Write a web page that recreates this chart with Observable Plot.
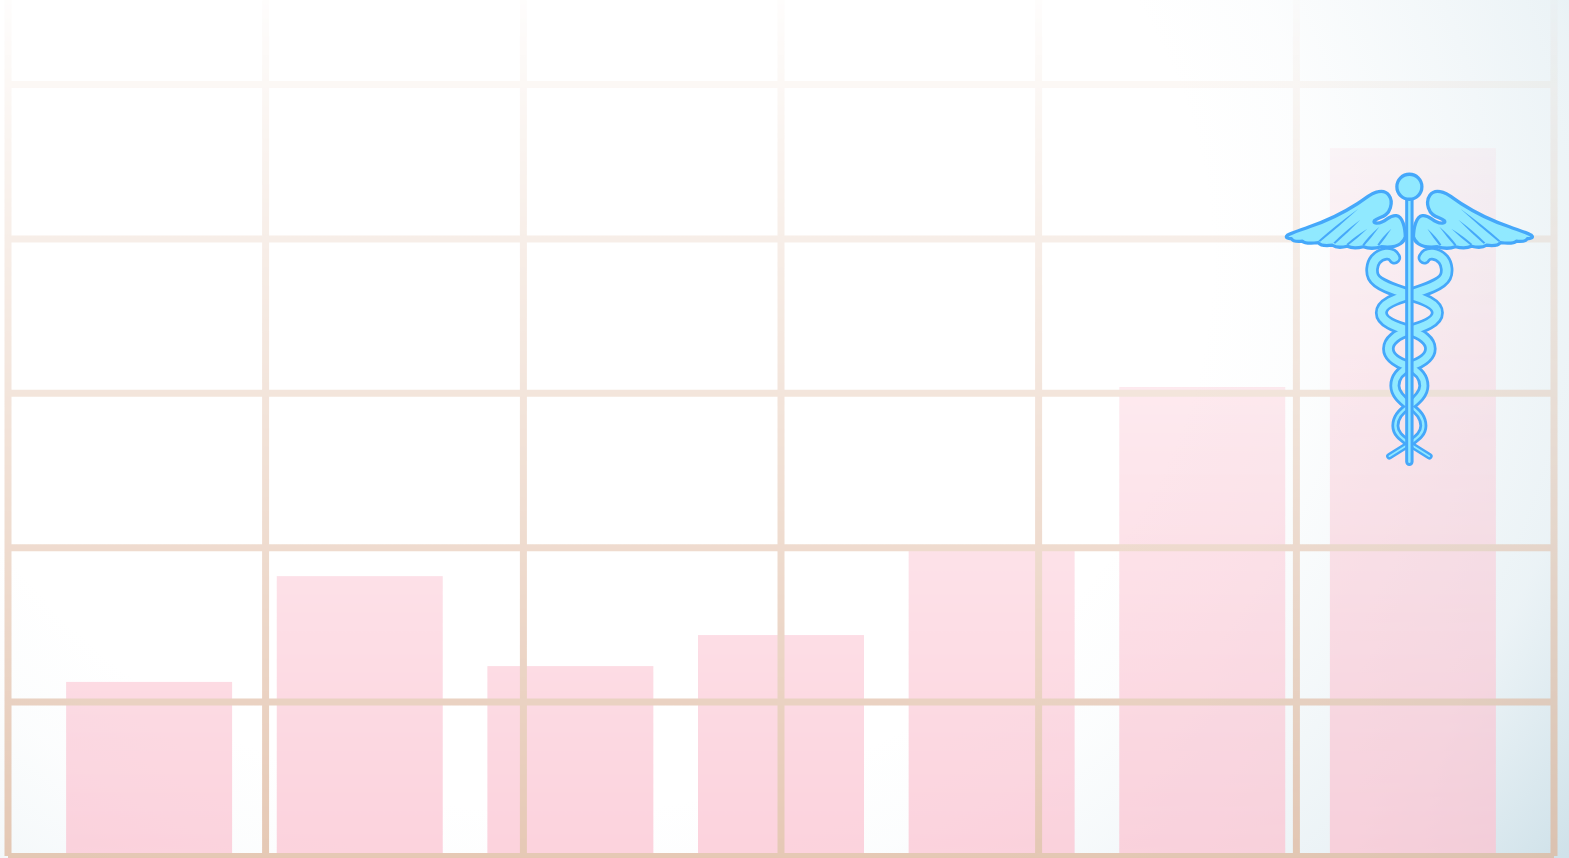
<!DOCTYPE html>
<html>
<head>
<meta charset="utf-8">
<script src="https://cdn.jsdelivr.net/npm/d3@7"></script>
<script src="https://cdn.jsdelivr.net/npm/@observablehq/plot@0.6"></script>
<style>
html,body{margin:0;padding:0;width:1569px;height:858px;overflow:hidden;background:#fff;}
svg{display:block;}
</style>
</head>
<body>
<div id="chart"></div>
<script>
const barIndex = [0, 1, 2, 3, 4, 5, 6];
const barValues = [22.55, 36.25, 24.6, 28.62, 39.64, 60.75, 91.7];
const yGrid = [0, 20, 40, 60, 80, 100];
const xGrid = [-0.67, 0.553, 1.777, 3, 4.223, 5.447, 6.67];
const iconAt = [{x: 6, y: 69.4}];

const fill = "#90e9ff", line = "#45a8fa";
const strands = [
  ["M15,257 C18,251 28,252 34,259 C38,264 38,272 36,276 C32,284 16,289 0,294", 13.5, 8],
  ["M0,294 C-14,298 -28,303 -28,312 C-28,321 -14,326 0,330", 13, 7.6],
  ["M0,330 C12,333 21,340 21,348 C21,356 12,362 0,366", 12.5, 7],
  ["M0,366 C-9,370 -14.5,377 -14.5,385 C-14.5,393 -8,399 0,405", 11, 5.4],
  ["M0,405 C8,410 14,417 14,425 C14,433 8,437 0,443", 8, 2.4],
  ["M0,443 L-20,455.5", 6.5, 1.6]
];
const strandSvg = (k) => strands.map(s => `<path d="${s[0]}" stroke="${k ? fill : line}" stroke-width="${k ? s[2] : s[1]}"/>`).join("");
const feather = (x1, y1, x2, y2) => `M${x1},${y1} Q${(x1+x2)/2+2},${(y1+y2)/2} ${x2},${y2} Q${(x1+x2)/2-1},${(y1+y2)/2+1.5} ${x1-1.8},${y1+1} Z`;
const half = `
<path d="M4,238 C4,226 7,216 13,215 C19,214 22,219 27,221 C31,223 37,223 35,220 C31,216 22,217 19,207 C16,197 22,189 31,191 C38,192 44,198 52,203 C66,212 82,220 100,226 C108,229 118,232 122,234.5 C125,237 121,238 118,238 Q116,241.5 107,240.5 Q104,243.5 91,242 Q88,246 77,244.5 Q72,248 62,245.5 Q56,248.5 46,246 Q38,249 28,246 Q15,247.5 9,243 Q5,240 4,236 Z" fill="${fill}" stroke="${line}" stroke-width="3.3" stroke-linejoin="round"/>
<g fill="${line}" stroke="none">
<path d="${feather(91,240,51,208)}"/><path d="${feather(76,242,49,219)}"/><path d="${feather(63,243.5,42,228)}"/><path d="${feather(47,244,30,226)}"/><path d="${feather(32,244,18,228)}"/>
</g>`;
const strandAll = (k) => `<g>${strandSvg(k)}</g><g transform="scale(-1,1)">${strandSvg(k)}</g>`;
const iconSvg = `<svg xmlns="http://www.w3.org/2000/svg" width="260" height="310" viewBox="-130 165 260 310">
<g>${half}</g><g transform="scale(-1,1)">${half}</g>
<g fill="none" stroke-linecap="round" stroke-linejoin="round">
${strandAll(0)}${strandAll(1)}
<path d="M0,198 L0,461" stroke="${line}" stroke-width="8.4"/>
<path d="M0,198 L0,461" stroke="${fill}" stroke-width="2.4"/>
</g>
<circle cx="0" cy="186" r="12.5" fill="${fill}" stroke="${line}" stroke-width="3.3"/>
</svg>`;
const iconSrc = "data:image/svg+xml," + encodeURIComponent(iconSvg);

const W = 1569, H = 858;
const backdrop = () => {
  const g = d3.create("svg:g");
  const d = g.append("defs");
  const bg = d.append("radialGradient").attr("id","bgTint").attr("gradientUnits","userSpaceOnUse")
    .attr("cx",0).attr("cy",0).attr("r",1)
    .attr("gradientTransform","translate(560,260) scale(1300,1100)");
  [[0.5,0],[0.59,0.06],[0.695,0.2],[0.8,0.36],[0.94,0.85],[1,0.95]].forEach(([o,a]) =>
    bg.append("stop").attr("offset",o).attr("stop-color","#c8dde6").attr("stop-opacity",a));
  const fade = d.append("linearGradient").attr("id","fadeRamp").attr("gradientUnits","userSpaceOnUse")
    .attr("x1",0).attr("y1",0).attr("x2",0).attr("y2",H);
  fade.append("stop").attr("offset",0).attr("stop-color","#fff").attr("stop-opacity",0.03);
  fade.append("stop").attr("offset",1).attr("stop-color","#fff").attr("stop-opacity",0.76);
  const mask = d.append("mask").attr("id","fadeMask").attr("maskUnits","userSpaceOnUse")
    .attr("x",0).attr("y",0).attr("width",W).attr("height",H);
  mask.append("rect").attr("width",W).attr("height",H).attr("fill","url(#fadeRamp)");
  g.append("rect").attr("width",W).attr("height",H).attr("fill","url(#bgTint)");
  return g.node();
};

const chart = Plot.plot({
  width: W, height: H,
  marginLeft: 8, marginRight: 15, marginTop: 0, marginBottom: 2,
  style: {background: "transparent", overflow: "hidden"},
  x: {domain: [-0.67, 6.67], axis: null},
  y: {domain: [0, 110.88], axis: null},
  marks: [
    backdrop,
    Plot.rectY(barIndex, {x1: i => i - 0.394, x2: i => i + 0.394, y1: 0, y2: i => barValues[i], fill: "#fbc4d2"}),
    Plot.ruleX(xGrid, {stroke: "#deb79d", strokeWidth: 7, dx: -0.5}),
    Plot.ruleY(yGrid, {stroke: "#deb79d", strokeWidth: 7}),
    Plot.image(iconAt, {x: "x", y: "y", dx: -4, width: 260, height: 310, src: () => iconSrc})
  ]
});
const faded = chart.querySelectorAll('g[aria-label^="rule"], g[aria-label^="rect"]');
const wrap = document.createElementNS("http://www.w3.org/2000/svg","g");
wrap.setAttribute("mask","url(#fadeMask)");
faded[0].parentNode.insertBefore(wrap, faded[0]);
faded.forEach(r => wrap.appendChild(r));
document.getElementById("chart").appendChild(chart);
</script>
</body>
</html>
